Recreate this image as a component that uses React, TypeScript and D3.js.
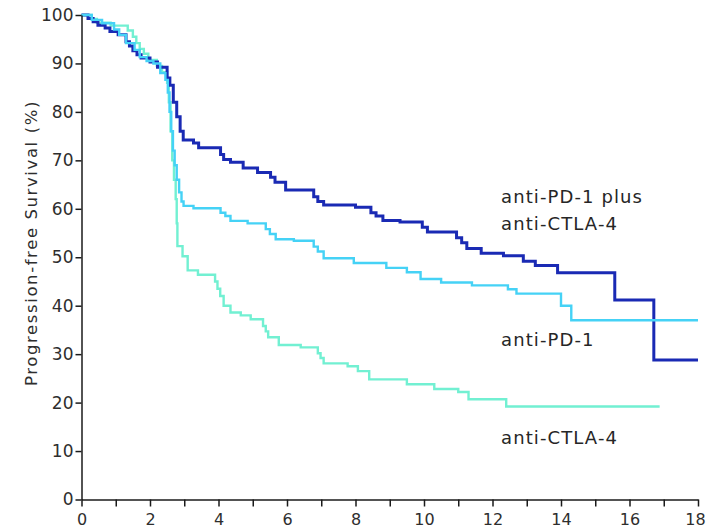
import { useEffect, useRef } from 'react'
import * as d3 from 'd3'

// Kaplan-Meier steps: [month, % progression-free]
const comboSteps: [number, number][] = [
  [0, 100], [0.19, 99.3], [0.34, 98.6], [0.48, 97.9], [0.69, 97.3], [0.83, 96.6], [1.07, 95.9],
  [1.3, 94.5], [1.4, 93.6], [1.5, 92.6], [1.62, 91.8], [1.74, 91.1], [2.0, 90.3], [2.22, 89.2],
  [2.5, 87], [2.58, 85.5], [2.68, 82], [2.78, 79], [2.88, 76], [2.97, 74.2], [3.27, 73.6],
  [3.42, 72.6], [4.06, 71.2], [4.15, 70.2], [4.35, 69.6], [4.72, 68.4], [5.14, 67.5], [5.52, 66.5],
  [5.65, 65.5], [5.96, 63.9], [6.78, 62.5], [6.9, 61.5], [7.07, 60.8], [8.0, 60.3], [8.45, 59.2],
  [8.6, 58.5], [8.8, 57.6], [9.3, 57.3], [9.95, 56.2], [10.1, 55.2], [10.95, 54.0], [11.1, 53],
  [11.25, 51.8], [11.67, 50.8], [12.32, 50.3], [12.9, 49.2], [13.25, 48.3], [13.9, 46.8],
  [15.57, 41.2], [16.71, 28.8], [18, 28.8],
]

const pd1Steps: [number, number][] = [
  [0, 100], [0.3, 99], [0.6, 98.3], [0.95, 97], [1.1, 95.9], [1.3, 94.2], [1.55, 92.8],
  [1.7, 91.3], [1.9, 90.5], [2.1, 90], [2.3, 88], [2.45, 86.6], [2.52, 84], [2.57, 80],
  [2.62, 76], [2.67, 72], [2.72, 69], [2.78, 66], [2.85, 63.4], [2.92, 61.5], [2.98, 60.6],
  [3.27, 60.1], [4.06, 59.2], [4.2, 58.5], [4.35, 57.5], [4.85, 57], [5.38, 55.8], [5.5, 54.8],
  [5.67, 53.7], [6.2, 53.4], [6.78, 52.2], [6.9, 51.2], [7.07, 49.8], [7.95, 48.8], [8.9, 47.8],
  [9.5, 46.9], [9.9, 45.5], [10.5, 44.8], [11.4, 44.2], [12.45, 43.4], [12.7, 42.5],
  [14.0, 40], [14.3, 37], [18, 37],
]

const ctla4Steps: [number, number][] = [
  [0, 100], [0.3, 99.2], [0.45, 98.4], [0.85, 97.8], [1.35, 96.8], [1.5, 95.5], [1.6, 94.2],
  [1.7, 93], [1.82, 92], [1.95, 90.7], [2.2, 89.5], [2.35, 88.2], [2.5, 86], [2.55, 82],
  [2.6, 76], [2.65, 70], [2.7, 66], [2.75, 62], [2.78, 57], [2.8, 52.3], [2.95, 50.2],
  [3.1, 47.3], [3.4, 46.4], [3.9, 45], [3.97, 43.5], [4.05, 42], [4.15, 40], [4.35, 38.6],
  [4.65, 38], [4.94, 37.2], [5.3, 35.8], [5.38, 34.7], [5.45, 33.5], [5.76, 31.9], [6.4, 31.4],
  [6.9, 30.2], [6.98, 29.2], [7.07, 28.1], [7.77, 27.5], [8.07, 26.5], [8.4, 24.8], [9.5, 23.8],
  [10.3, 22.8], [11.0, 22.2], [11.3, 20.7], [12.4, 19.2], [16.88, 19.2],
]

const xTicks = [0, 1, 2, 3, 4, 5, 6, 7, 8, 9, 10, 11, 12, 13, 14, 15, 16, 17, 18]
const yTicks = [0, 10, 20, 30, 40, 50, 60, 70, 80, 90, 100]

const seriesLabels = [
  { lines: ['anti-PD-1 plus', 'anti-CTLA-4'], x: 12.25, y: 61.2 },
  { lines: ['anti-PD-1'], x: 12.25, y: 31.7 },
  { lines: ['anti-CTLA-4'], x: 12.25, y: 11.5 },
]

const FONT = '"DejaVu Sans", sans-serif'

export default function App() {
  const svgRef = useRef<SVGSVGElement>(null)

  useEffect(() => {
    if (!svgRef.current) return
    const svg = d3.select(svgRef.current)
    svg.selectAll('*').remove()

    const x = d3.scaleLinear().domain([0, 18]).range([81.5, 698])
    const y = d3.scaleLinear().domain([0, 100]).range([499.5, 15])

    const line = d3.line<[number, number]>()
      .x(d => x(d[0]))
      .y(d => y(d[1]))
      .curve(d3.curveStepAfter)

    // curves
    const series = [
      { data: ctla4Steps, color: '#72f0d2', width: 2.4 },
      { data: comboSteps, color: '#1a2ab4', width: 3 },
      { data: pd1Steps, color: '#45d2f6', width: 2.4 },
    ]
    series.forEach(s => {
      svg.append('path')
        .datum(s.data)
        .attr('d', line)
        .attr('fill', 'none')
        .attr('stroke', s.color)
        .attr('stroke-width', s.width)
    })

    // Y axis
    const yAxis = svg.append('g')
      .attr('transform', `translate(${x(0)},0)`)
      .call(d3.axisLeft(y).tickValues(yTicks).tickSize(6).tickSizeOuter(0).tickPadding(2))
    // X axis
    const xAxis = svg.append('g')
      .attr('transform', `translate(0,${y(0)})`)
      .call(d3.axisBottom(x).tickValues(xTicks).tickSize(7).tickSizeOuter(0).tickPadding(7)
        .tickFormat(d => (+d % 2 === 0 ? String(d) : '')))

    ;[yAxis, xAxis].forEach(ax => {
      ax.select('.domain').attr('stroke', '#1a1a1a').attr('stroke-width', 1.5)
      ax.selectAll('.tick line').attr('stroke', '#1a1a1a').attr('stroke-width', 1.5)
      ax.selectAll('.tick text')
        .attr('fill', '#2e2e2e')
        .attr('font-family', FONT)
        .attr('font-size', 17)
    })
    xAxis.selectAll('.tick text').attr('font-size', 16)
    // keep the last label inside the frame
    xAxis.selectAll<SVGTextElement, number>('.tick text')
      .filter(d => d === 18)
      .attr('dx', -3)

    // Y axis title
    svg.append('text')
      .attr('transform', `translate(37,243) rotate(-90)`)
      .attr('text-anchor', 'middle')
      .attr('font-family', FONT)
      .attr('font-size', 16.5)
      .attr('letter-spacing', 1.6)
      .attr('fill', '#2e2e2e')
      .text('Progression-free Survival (%)')

    // Series labels
    seriesLabels.forEach(l => {
      const t = svg.append('text')
        .attr('x', x(l.x))
        .attr('y', y(l.y))
        .attr('font-family', FONT)
        .attr('font-size', 18)
        .attr('letter-spacing', 1.1)
        .attr('fill', '#262626')
      l.lines.forEach((s, i) => {
        t.append('tspan')
          .attr('x', x(l.x))
          .attr('dy', i === 0 ? 0 : 27)
          .text(s)
      })
    })
  }, [])

  return (
    <svg
      ref={svgRef}
      width={707}
      height={530}
      style={{ position: 'absolute', left: 0, top: 0, background: '#fff' }}
    />
  )
}
